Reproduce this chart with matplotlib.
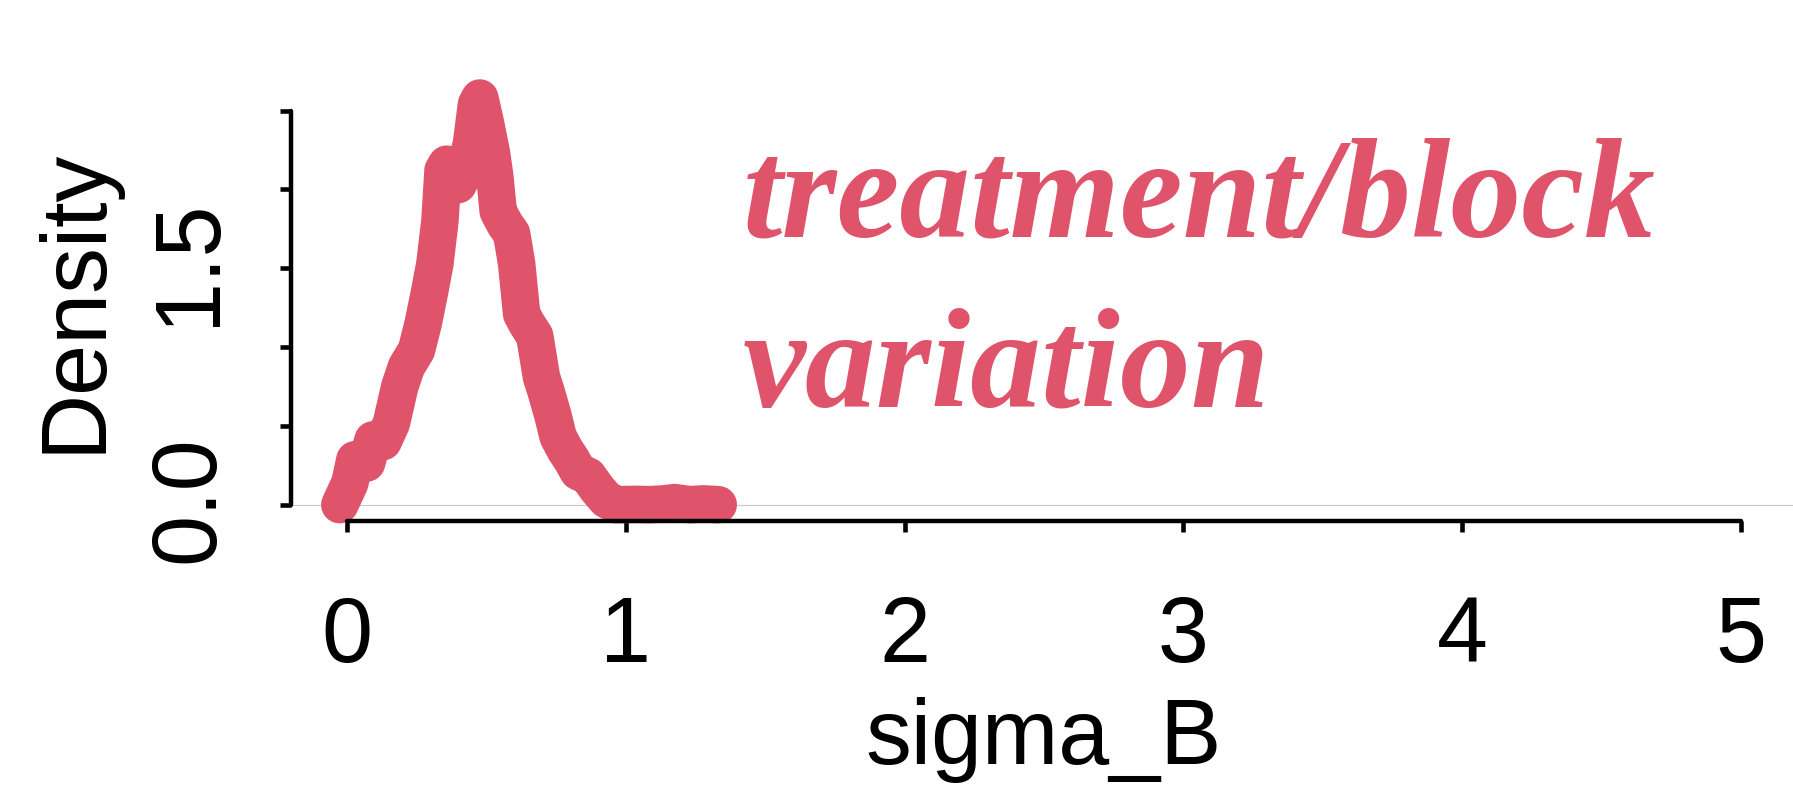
import matplotlib
matplotlib.use("Agg")
import matplotlib.pyplot as plt
import matplotlib.transforms as mtransforms

# density of sigma_B
sigma_b = [-0.025, 0.011, 0.029, 0.047, 0.071, 0.094, 0.130, 0.160, 0.190, 0.214,
           0.250, 0.274, 0.298, 0.316, 0.334, 0.345, 0.358, 0.375, 0.399, 0.423,
           0.447, 0.465, 0.477, 0.495, 0.519, 0.531, 0.543, 0.567, 0.591, 0.609,
           0.627, 0.645, 0.674, 0.698, 0.716, 0.740, 0.758, 0.782, 0.806, 0.830,
           0.866, 0.896, 0.931, 0.967, 1.039, 1.087, 1.135, 1.176, 1.230, 1.278,
           1.332]
density = [0.0, 0.137, 0.285, 0.29, 0.264, 0.411, 0.40, 0.517, 0.749, 0.875,
           0.981, 1.15, 1.36, 1.53, 1.80, 2.12, 2.16, 2.06, 2.03, 2.12,
           2.29, 2.54, 2.58, 2.44, 2.23, 2.08, 1.86, 1.78, 1.72, 1.53,
           1.21, 1.15, 1.07, 0.81, 0.71, 0.56, 0.43, 0.35, 0.285, 0.21,
           0.18, 0.105, 0.032, 0.0, 0.002, 0.0, 0.005, 0.013, 0.0, 0.005,
           0.0]

x_ticks = [0, 1, 2, 3, 4, 5]
y_ticks = [0.0, 0.5, 1.0, 1.5, 2.0, 2.5]
y_tick_labels = ["0.0", "", "", "1.5", "", ""]
annotation = ["treatment/block", "variation"]

line_color = "#DF536B"

plt.rcParams["font.family"] = ["Liberation Sans", "DejaVu Sans"]

fig = plt.figure(figsize=(17.93, 7.95), dpi=100)
ax = fig.add_axes([291 / 1793, (795 - 521) / 795, 1506 / 1793, 441 / 795])

ax.axhline(0, color="#c8c8c8", lw=0.8, zorder=1)
ax.plot(sigma_b, density, color=line_color, lw=27,
        solid_capstyle="round", solid_joinstyle="round", zorder=2, clip_on=False)

ax.set_xlim(-0.2, 5.2)
ax.set_ylim(-0.1036, 2.694)

for side in ["top", "right"]:
    ax.spines[side].set_visible(False)
ax.spines["left"].set_bounds(0, 2.5)
ax.spines["bottom"].set_bounds(0, 5)
for side in ["left", "bottom"]:
    ax.spines[side].set_linewidth(3.2)
    ax.spines[side].set_capstyle("round")

ax.set_xticks(x_ticks)
ax.set_xticklabels([str(t) for t in x_ticks])
ax.set_yticks(y_ticks)
ax.set_yticklabels(y_tick_labels, rotation=90, va="center")
ax.tick_params(axis="both", length=8, width=3.3, labelsize=66, colors="black")
ax.tick_params(axis="x", pad=45)
ax.tick_params(axis="y", pad=34)

# nudge the rotated y labels up a little, as in the original
shift = mtransforms.ScaledTranslation(0, 6 / 100, fig.dpi_scale_trans)
for lbl in ax.get_yticklabels():
    lbl.set_transform(lbl.get_transform() + shift)

ax.set_xlabel("sigma_B", fontsize=66, labelpad=12)
ax.set_ylabel("Density", fontsize=66, labelpad=20)

ax.text(1.42, 1.70, annotation[0], color=line_color, fontsize=102,
        family="Liberation Serif", style="italic", weight="bold",
        ha="left", va="baseline")
ax.text(1.42, 0.62, annotation[1], color=line_color, fontsize=102,
        family="Liberation Serif", style="italic", weight="bold",
        ha="left", va="baseline")

fig.savefig("out.png", dpi=100)
